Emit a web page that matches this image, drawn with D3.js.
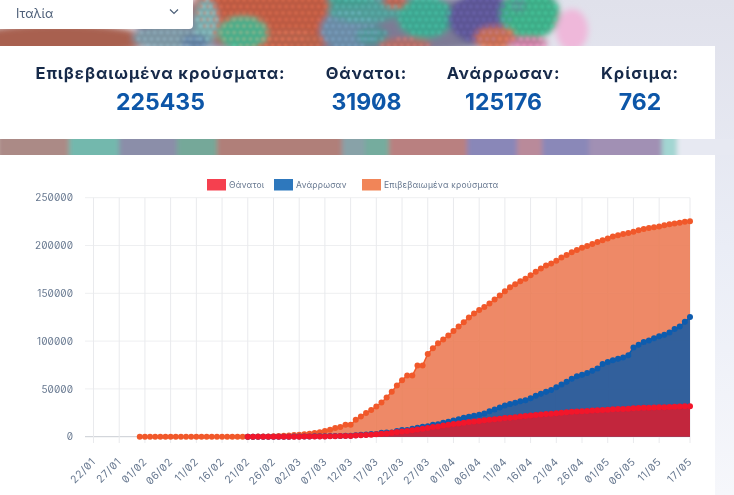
<!DOCTYPE html>
<html lang="el"><head><meta charset="utf-8">
<style>
html,body{margin:0;padding:0;background:#fff;overflow:hidden}
svg{display:block}
text{font-family:Inter,"Noto Sans",sans-serif;font-feature-settings:"zero" 1}
</style>
<script src="https://cdn.jsdelivr.net/npm/d3@7/dist/d3.min.js"></script>
</head><body><div id="c"></div>
<script>
const country = "Ιταλία";
const statLabels = ["Επιβεβαιωμένα κρούσματα:", "Θάνατοι:", "Ανάρρωσαν:", "Κρίσιμα:"];
const statValues = ["225435", "31908", "125176", "762"];
const seriesNames = ["Θάνατοι", "Ανάρρωσαν", "Επιβεβαιωμένα κρούσματα"];
const yTicks = [0, 50000, 100000, 150000, 200000, 250000];
const xTickLabels = ["22/01","27/01","01/02","06/02","11/02","16/02","21/02","26/02","02/03","07/03","12/03","17/03","22/03","27/03","01/04","06/04","11/04","16/04","21/04","26/04","01/05","06/05","11/05","17/05"];
const none = n => Array(n).fill(null);
const confirmed = [...none(9), 2,2,2,2,2,2, 3,3,3,3,3,3,3,3,3,3,3,3,3,3,3,
 20,62,155,229,322,453,655,888,1128,
 1694,2036,2502,3089,3858,4636,5883,7375,9172,10149,12462,12462,17660,21157,24747,27980,31506,35713,41035,47021,53578,59138,63927,63927,74386,74386,86498,92472,97689,101739,105792,
 110574,115242,119827,124632,128948,132547,135586,139422,143626,147577,152271,156363,159516,162488,165155,168941,172434,175925,178972,181228,183957,187327,189973,192994,195351,197675,199414,201505,203591,205463,
 207428,209328,210717,211938,213013,214457,215858,217185,218268,219070,219814,221216,222104,223096,223885,224760,225435];
const deaths = [...none(30), 1,2,3,7,10,12,17,21,29,
 34,52,79,107,148,197,233,366,463,631,827,827,1266,1441,1809,2158,2503,2978,3405,4032,4825,5476,6077,6820,7503,8215,9134,10023,10779,11591,12428,
 13155,13915,14681,15362,15887,16523,17127,17669,18279,18849,19468,19899,20465,21067,21645,22170,22745,23227,23660,24114,24648,25085,25549,25969,26384,26644,26977,27359,27682,27967,
 28236,28710,28884,29079,29315,29684,29958,30201,30395,30560,30739,30911,31106,31368,31610,31763,31908];
const recovered = [...none(30), 0,1,1,1,1,3,45,46,46,
 83,149,160,276,414,523,589,622,724,724,1045,1045,1439,1966,2335,2749,2941,4025,4440,4440,6072,7024,7024,8326,9362,10361,10950,12384,13030,14620,15729,
 16847,18278,19758,20996,21815,22837,24392,26491,28470,30455,32534,34211,35435,37130,38092,40164,42727,44927,47055,48877,51600,54543,57576,60498,63120,64928,66624,68941,71252,75945,
 78249,79914,81654,82879,85231,93245,96276,99023,100704,103031,105186,106587,109039,112541,115288,120205,125176];
// decorative backdrop patches: [x, y, rx, ry, colour]
const topPatches = [[345,24,210,30,"#7d7a95"],[60,40,90,16,"#a8604f"],[168,38,36,12,"#7b95a2"],[262,12,70,40,"#bb5a42"],[292,42,36,12,"#b5604a"],[206,22,12,24,"#78a9ab"],[195,42,14,8,"#5f7d9c"],
 [243,33,25,17,"#49ad8a"],[350,30,30,22,"#6a8aa5"],[365,10,38,13,"#4f9a96"],[372,36,16,10,"#4f9093"],
 [425,17,28,22,"#3ca48f"],[405,45,26,7,"#b06a64"],[350,0,24,6,"#3f9b8c"],[395,2,12,6,"#b65f4c"],
 [482,18,34,26,"#5b5594"],[530,14,30,25,"#3cab86"],[495,38,21,12,"#c46c52"],[528,43,20,6,"#c77aa0"],[572,30,16,21,"#efb8da"],[518,5,8,8,"#4f8f8c"]];
const midSegments = [[0,"#ab8a86"],[72,"#73b8ad"],[122,"#8b8ea9"],[180,"#75a899"],[220,"#b07f79"],[345,"#88a2a8"],[368,"#74ac9e"],[392,"#b98080"],[470,"#8987b8"],[520,"#b98a9a"],[545,"#8a88b8"],[592,"#a190b4"],[665,"#a2d6d2"],[680,"#e7e9f2"]];

const W = 734, H = 495;
const dates = d3.utcDay.range(Date.UTC(2020,0,22), Date.UTC(2020,4,18)).map(d3.utcFormat("%Y-%m-%d"));
const key = s => s.slice(8,10)+"/"+s.slice(5,7);

const svg = d3.select("#c").append("svg").attr("width",W).attr("height",H);
const defs = svg.append("defs");
const blur = (id,s)=>defs.append("filter").attr("id",id).attr("filterUnits","userSpaceOnUse").attr("x",-30).attr("y",-30).attr("width",W+60).attr("height",H+60).append("feGaussianBlur").attr("stdDeviation",s);
blur("b5",3); blur("b3",2.6); blur("b1",0.9); blur("soft",0.45);
const rg = defs.append("linearGradient").attr("id","side").attr("x1",0).attr("y1",0).attr("x2",0).attr("y2",1);
rg.append("stop").attr("offset",0).attr("stop-color","#e0e1eb");
rg.append("stop").attr("offset",0.5).attr("stop-color","#eaedf6");
rg.append("stop").attr("offset",1).attr("stop-color","#f6f7fb");
defs.append("clipPath").attr("id","topclip").append("rect").attr("width",W).attr("height",46);
defs.append("clipPath").attr("id","midclip").append("rect").attr("y",139).attr("width",W).attr("height",16);

svg.append("rect").attr("width",W).attr("height",H).attr("fill","url(#side)");

// photo strip, top
const topClip = svg.append("g").attr("clip-path","url(#topclip)");
topClip.append("g").attr("filter","url(#b5)").selectAll("ellipse").data(topPatches).join("ellipse")
  .attr("cx",d=>d[0]).attr("cy",d=>d[1]).attr("rx",d=>d[2]).attr("ry",d=>d[3]).attr("fill",d=>d[4]);
// lumpy surface of the backdrop
const lumps = topClip.append("g").attr("filter","url(#b1)");
topPatches.slice(1).filter(p=>p[2]<80 && p[0]<560).forEach(p=>{
  const c = d3.color(p[4]);
  const pts = d3.range(Math.floor(p[0]-p[2]),p[0]+p[2],6.5).flatMap(px=>d3.range(0,50,6.5).map((py,j)=>[px+(j%2)*3.2,py]))
    .filter(q=>((q[0]-p[0])/p[2])**2+((q[1]-p[1])/p[3])**2<0.85);
  lumps.append("g").selectAll("circle").data(pts).join("circle")
    .attr("cx",q=>q[0]).attr("cy",q=>q[1]).attr("r",2.1)
    .attr("fill",c.brighter(0.7).formatHex()).attr("opacity",0.42);
});

// photo strip, middle
const midClip = svg.append("g").attr("clip-path","url(#midclip)");
midClip.append("g").attr("filter","url(#b3)").selectAll("rect").data(midSegments).join("rect")
  .attr("x",d=>d[0]-3).attr("y",130)
  .attr("width",(d,i)=>(i+1<midSegments.length?midSegments[i+1][0]:W+6)-d[0]+6).attr("height",34)
  .attr("fill",d=>d[1]);

// panels
svg.append("rect").attr("y",46).attr("width",715).attr("height",93).attr("fill","#fff");
svg.append("rect").attr("y",155).attr("width",715).attr("height",340).attr("fill","#fff");

// selector
svg.append("path").attr("d","M-2,-2H193V25Q193,29 189,29H-2Z").attr("fill","#fff");

const page = svg.append("g").attr("filter","url(#soft)");
page.append("text").attr("x",16).attr("y",18).attr("font-size",12.5).attr("fill","#4d5f78").text(country);
page.append("path").attr("d","M170,9.5L174,13.5L178,9.5").attr("fill","none").attr("stroke","#4d5f78").attr("stroke-width",1.2);

// stats
const statX = [160.5, 366.5, 503.5, 640];
statLabels.forEach((t,i)=>{
  page.append("text").attr("x",statX[i]).attr("y",79).attr("text-anchor","middle")
    .attr("font-size",16.5).attr("font-weight",700).attr("letter-spacing",0.92).attr("fill","#17294a").text(t);
  page.append("text").attr("x",statX[i]).attr("y",110).attr("text-anchor","middle")
    .attr("font-size",23).attr("font-weight",700).attr("fill","#0b57a8").text(statValues[i]);
});

// scales
const x = d3.scalePoint().domain(dates).range([93.5,690]);
const y = d3.scaleLinear().domain([0,250000]).range([436.7,197.7]);
const tickDates = dates.filter(d=>xTickLabels.includes(key(d)));

// grid
const grid = page.append("g");
grid.selectAll("line.h").data(yTicks).join("line").attr("class","h")
  .attr("x1",85).attr("x2",690).attr("y1",d=>y(d)).attr("y2",d=>y(d))
  .attr("stroke",d=>d===0?"#c9cdd3":"#eeeff1");
grid.selectAll("line.v").data(tickDates).join("line").attr("class","v")
  .attr("x1",d=>x(d)).attr("x2",d=>x(d)).attr("y1",197.7).attr("y2",443)
  .attr("stroke","#e9eaed");

// series
const seriesDefs = [
 {v:confirmed, fill:"#ec7a52", op:0.88, dot:"#f1592a"},
 {v:recovered, fill:"#2a5f9e", op:0.97, dot:"#0e5cae"},
 {v:deaths, fill:"#c7243a", op:0.97, dot:"#f2142c"}
];
seriesDefs.forEach(s=>{
  const pts = dates.map((d,i)=>({d,v:s.v[i]})).filter(p=>p.v!==null);
  page.append("path").datum(pts).attr("fill",s.fill).attr("fill-opacity",s.op)
    .attr("d",d3.area().x(p=>x(p.d)).y0(y(0)).y1(p=>y(p.v)));
  page.append("path").datum(pts).attr("fill","none").attr("stroke",s.dot).attr("stroke-width",1.5)
    .attr("d",d3.line().x(p=>x(p.d)).y(p=>y(p.v)));
  page.append("g").selectAll("circle").data(pts).join("circle")
    .attr("cx",p=>x(p.d)).attr("cy",p=>y(p.v)).attr("r",3).attr("fill",s.dot);
});

// axes
const labelFont = 'Inter,"Noto Sans",sans-serif';
const yAxis = d3.axisLeft(y).tickValues(yTicks).tickSize(0).tickPadding(0).tickFormat(d3.format("d"));
const ya = page.append("g").attr("transform","translate(73,0)").call(yAxis);
ya.select(".domain").remove();
ya.selectAll("text").attr("font-size",10).attr("letter-spacing",0.05).attr("fill","#66778f").attr("font-family",labelFont);

const xAxis = d3.axisBottom(x).tickValues(tickDates).tickSize(0).tickFormat(key);
const xa = page.append("g").attr("transform","translate(0,447)").call(xAxis);
xa.select(".domain").remove();
xa.selectAll("text").attr("font-size",10.5).attr("letter-spacing",0.6).attr("fill","#66778f").attr("font-family",labelFont)
  .attr("text-anchor","end").attr("dy","0.7em").attr("transform","translate(-5,8) rotate(-45)");

// legend
const legX = [207,274,362], colors = ["#f5414f","#2f78bd","#f18558"];
seriesNames.forEach((t,i)=>{
  page.append("rect").attr("x",legX[i]).attr("y",179).attr("width",19).attr("height",11.5).attr("fill",colors[i]);
  page.append("text").attr("x",legX[i]+22).attr("y",188).attr("font-size",8.5).attr("letter-spacing",0.2).attr("fill","#66778f").text(t);
});
</script></body></html>
